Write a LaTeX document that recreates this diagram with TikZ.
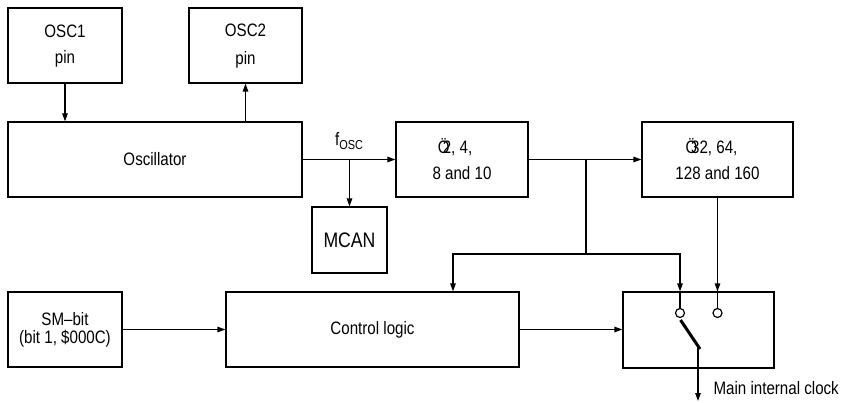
\documentclass[tikz,border=0pt]{standalone}
\usepackage{fontspec}
\setmainfont{Liberation Sans}[FakeStretch=0.84]
\usetikzlibrary{arrows.meta}
\newcommand{\dropby}[2]{\raisebox{-#1}{\begin{tabular}{@{}c@{}}#2\end{tabular}}}
\begin{document}
\begin{tikzpicture}[x=1pt,y=-1pt,line width=1.2pt,
  box/.style={draw,inner sep=0pt,align=center,font=\fontsize{18}{24}\selectfont},
  arr/.style={-{Triangle[length=8pt,width=5.5pt]}},
  lbl/.style={inner sep=0pt,font=\fontsize{18}{22}\selectfont},
  contact/.style={circle,draw,fill=white,minimum size=9pt,inner sep=0pt}]
\useasboundingbox (0,0) rectangle (842,403);
% boxes
\node[box,minimum width=114pt,minimum height=75pt] (osc1) at (65,45.5)
  {\dropby{3pt}{OSC1\\[2pt]pin}};
\node[box,minimum width=113pt,minimum height=75pt] (osc2) at (245.5,45.5)
  {\dropby{1pt}{OSC2\\[4pt]pin}};
\node[box,minimum width=294pt,minimum height=75pt] (osc) at (155,159.5) {Oscillator};
\node[box,minimum width=132pt,minimum height=75pt] (div1) at (462,159.5)
  {\makebox[5pt][l]{Ö}2, 4,\hspace*{14pt}\\[2pt]8 and 10};
\node[box,minimum width=151pt,minimum height=75pt] (div2) at (717.5,159.5)
  {\makebox[5.5pt][l]{Ö}32, 64,\hspace*{12pt}\\[2pt]128 and 160};
\node[box,minimum width=75pt,minimum height=66pt,font=\fontsize{21}{24}\selectfont] (mcan) at (349.5,240) {MCAN};
\node[box,minimum width=114pt,minimum height=75pt,font=\fontsize{18}{18}\selectfont] (sm) at (65,329.5) {SM–bit\\(bit 1, \$000C)};
\node[box,minimum width=293pt,minimum height=75pt] (ctrl) at (372.5,329.5) {Control logic};
\node[box,minimum width=151pt,minimum height=76pt] (sw) at (698.5,330) {};
% labels
\node[lbl] (fosc) at (349,141) {f\raisebox{-4.5pt}{\fontsize{13}{13}\selectfont OSC}};
\node[lbl,anchor=west] (mic) at (713,388) {Main internal clock};
% oscillator connections
\draw[arr] (osc1.south) -- (osc1.south |- osc.north);
\draw[arr] (osc2.south |- osc.north) -- (osc2.south);
\draw[arr] (osc.east) -- (div1.west);
\coordinate (b1) at (349.5,159.5);
\draw[arr] (b1) -- (mcan.north);
\draw[arr] (div1.east) -- (div2.west);
% branch to control logic and switch
\coordinate (b2) at (586,159.5);
\coordinate (b3) at (586,254);
\coordinate (tl) at (453,254);
\coordinate (tr) at (680,254);
\draw[arr] (b2) |- (tl) -- (tl |- ctrl.north);
\draw[arr] (b3) -| (tr |- sw.north);
% switch contacts
\node[contact] (c1) at (680,313) {};
\node[contact] (c2) at (717.5,313) {};
\draw (tr |- sw.north) -- (c1.north);
\draw[arr] (div2.south) -- (div2.south |- sw.north);
\draw (div2.south |- sw.north) -- (c2.north);
% lever
\coordinate (lvtop) at (680.5,320);
\coordinate (lvbot) at (700,349);
\draw[line width=3pt] (lvtop) -- (lvbot);
\coordinate (outtop) at (698,346);
\coordinate (out) at (698,401);
\draw[arr] (outtop) -- (out);
% control connections
\draw[arr] (sm.east) -- (ctrl.west);
\draw[arr] (ctrl.east) -- (ctrl.east -| sw.west);
\end{tikzpicture}
\end{document}
